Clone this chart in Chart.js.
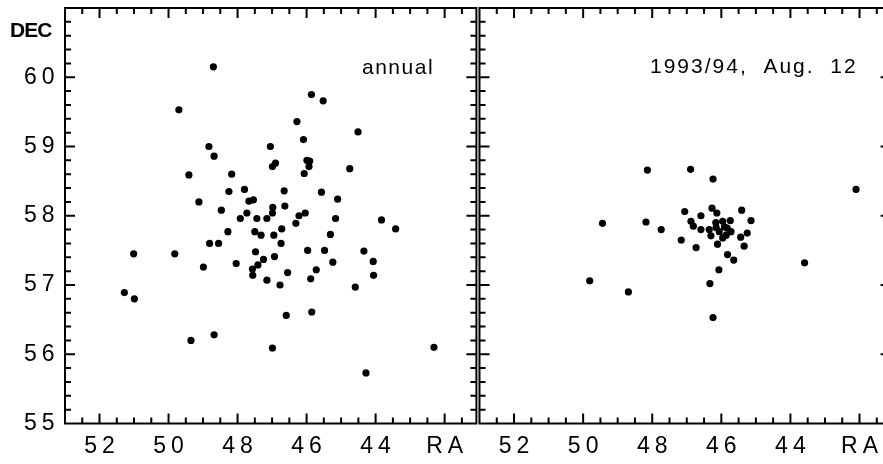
<!DOCTYPE html>
<html><head><meta charset="utf-8">
<script src="https://cdn.jsdelivr.net/npm/chart.js@4"></script>
<style>
html,body{margin:0;padding:0;background:#fff;overflow:hidden;width:883px;height:464px;}
#wrap{position:relative;width:883px;height:464px;overflow:hidden;background:#fff;}
canvas{position:absolute;top:0;}
#c1{left:0;}
#c2{left:459px;}
</style></head>
<body><div id="wrap"><canvas id="c1" width="480" height="464"></canvas><canvas id="c2" width="440" height="464"></canvas></div>
<script>
// ---- data (RA as printed on the axis, DEC in degrees) ----
const annualRA  = [48.70,49.70,48.83,48.68,47.05,46.99,46.90,49.41,48.17,46.28,49.12,48.25,47.80,47.67,47.54,47.73,48.47,47.92,47.44,47.15,46.99,46.98,46.65,46.63,46.31,46.22,48.28,47.50,47.32,46.95,46.72,48.81,48.55,47.48,46.74,51.01,49.82,48.99,48.04,47.25,47.41,46.93,47.57,47.56,46.55,47.15,46.77,51.28,50.99,46.59,49.35,48.68,46.99,45.86,45.52,44.51,46.09,45.99,45.91,45.93,46.07,44.75,45.57,45.10,46.04,45.16,43.83,43.42,45.31,45.97,45.48,45.24,44.34,44.07,44.06,45.72,45.88,44.59,45.85,42.31,44.28];
const annualDEC = [60.15,59.53,59.00,58.86,59.00,58.71,58.76,58.59,58.60,59.36,58.20,58.35,58.38,58.21,58.23,58.04,58.08,57.96,57.96,57.96,58.04,58.12,58.36,58.14,57.89,58.00,57.77,57.77,57.72,57.72,57.81,57.60,57.60,57.48,57.60,57.45,57.45,57.26,57.31,57.37,57.29,57.41,57.23,57.14,57.18,57.07,57.00,56.89,56.80,56.56,56.20,56.28,56.09,59.75,59.66,59.21,59.10,58.80,58.79,58.71,58.61,58.68,58.34,58.24,58.04,57.96,57.94,57.81,57.73,57.50,57.50,57.33,57.49,57.34,57.14,57.22,57.09,56.97,56.61,56.10,55.73];
const augRA  = [48.14,46.89,46.24,42.10,46.27,46.13,47.06,46.59,45.41,45.14,49.44,48.18,47.74,46.88,46.81,46.59,46.35,46.15,45.96,45.74,45.91,46.06,45.72,45.86,46.30,45.96,45.25,45.44,47.16,46.73,46.11,45.34,45.82,45.64,46.07,46.33,46.24,49.81,48.69,43.59,46.16,45.83];
const augDEC = [58.66,58.67,58.53,58.38,58.11,58.04,58.06,58.00,58.08,57.93,57.89,57.91,57.80,57.92,57.85,57.80,57.80,57.83,57.92,57.93,57.84,57.77,57.77,57.72,57.71,57.68,57.75,57.69,57.65,57.54,57.59,57.56,57.44,57.36,57.22,57.02,56.53,57.06,56.90,57.32,57.90,57.82];
const xTickValues = [52,50,48,46,44,42];
const xTickLabels = ['52','50','48','46','44','RA'];
const yTickValues = [55,56,57,58,59,60];
const yTickLabels = ['55','56','57','58','59','60'];
const titleLeft = 'annual';
const titleRight = '1993/94,  Aug.  12';
const yAxisName = 'DEC';

const FONT = '"Liberation Sans", Arial, Helvetica, sans-serif';

function pts(xs, ys){ return xs.map((v,i)=>({x:v, y:ys[i]})); }

const framePlugin = {
  id: 'frame',
  beforeDraw(chart){ chart.ctx.letterSpacing = '5px'; },
  afterDraw(chart, args, opts){
    const ctx = chart.ctx, a = chart.chartArea, xs = chart.scales.x, ys = chart.scales.y;
    ctx.letterSpacing = '0px';
    ctx.save();
    ctx.strokeStyle = '#000';
    ctx.lineWidth = 2;
    ctx.strokeRect(a.left, a.top, a.right - a.left, a.bottom - a.top);
    ctx.beginPath();
    const xmin = Math.min(xs.min, xs.max), xmax = Math.max(xs.min, xs.max);
    for (let k = Math.ceil(xmin*2); k <= Math.floor(xmax*2); k++) {
      const v = k/2, px = xs.getPixelForValue(v);
      if (px <= a.left + 1 || px >= a.right - 1) continue;
      const len = (k % 4 === 0) ? 10 : 6;
      ctx.moveTo(px, a.bottom); ctx.lineTo(px, a.bottom - len);
      ctx.moveTo(px, a.top); ctx.lineTo(px, a.top + len);
    }
    for (let k = Math.ceil(ys.min*5); k <= Math.floor(ys.max*5); k++) {
      const v = k/5, py = ys.getPixelForValue(v);
      if (py <= a.top + 1 || py >= a.bottom - 1) continue;
      const len = (k % 5 === 0) ? 10 : 6;
      ctx.moveTo(a.left, py); ctx.lineTo(a.left + len, py);
      ctx.moveTo(a.right, py); ctx.lineTo(a.right - len, py);
    }
    ctx.stroke();
    ctx.fillStyle = '#000';
    ctx.textBaseline = 'alphabetic';
    ctx.textAlign = 'left';
    (opts.texts || []).forEach(t => {
      ctx.font = t.font;
      ctx.letterSpacing = t.spacing;
      ctx.fillText(t.text, t.x, t.y);
    });
    ctx.letterSpacing = '0px';
    ctx.restore();
  }
};

function noPad(s){ s.paddingTop = 0; s.paddingBottom = 0; s.paddingLeft = 0; s.paddingRight = 0; }

function makeChart(id, data, cfg){
  return new Chart(document.getElementById(id), {
    type: 'scatter',
    data: { datasets: [{ data: data, pointRadius: 3.6, pointHoverRadius: 3.6, backgroundColor: '#000', borderWidth: 0 }] },
    options: {
      responsive: false, animation: false, devicePixelRatio: 1,
      layout: { padding: { top: 8, right: cfg.padRight, left: 0, bottom: 0 } },
      plugins: { legend: { display: false }, tooltip: { enabled: false }, frame: { texts: cfg.texts } },
      scales: {
        x: {
          type: 'linear', position: 'bottom', min: cfg.xMin, max: 53, reverse: true,
          grid: { display: false, drawTicks: false }, border: { display: false },
          afterBuildTicks: s => { s.ticks = xTickValues.map(v => ({ value: v })); },
          afterFit: s => { s.height = 40.5; noPad(s); },
          ticks: { autoSkip: false, maxRotation: 0, padding: 9.5, labelOffset: 2.5, color: '#000',
                   font: { family: FONT, size: 23 },
                   callback: (v, i) => xTickLabels[i] }
        },
        y: {
          type: 'linear', position: 'left', min: 55, max: 61,
          grid: { display: false, drawTicks: false }, border: { display: false },
          afterBuildTicks: s => { s.ticks = yTickValues.map(v => ({ value: v })); },
          afterFit: s => { s.width = cfg.yWidth; noPad(s); },
          ticks: { display: cfg.yLabels, padding: 5.5, color: '#000',
                   font: { family: FONT, size: 23 },
                   callback: (v, i) => yTickLabels[i] }
        }
      }
    },
    plugins: [framePlugin]
  });
}

makeChart('c1', pts(annualRA, annualDEC), {
  xMin: 41.08, padRight: 3, yWidth: 65, yLabels: true,
  texts: [
    { text: yAxisName, x: 10, y: 37, font: 'bold 21px ' + FONT, spacing: '-1px' },
    { text: titleLeft, x: 362, y: 74, font: '21px ' + FONT, spacing: '1.5px' }
  ]
});
makeChart('c2', pts(augRA, augDEC), {
  xMin: 41.1, padRight: 8.4, yWidth: 20.5, yLabels: false,
  texts: [
    { text: titleRight, x: 191, y: 73, font: '21px ' + FONT, spacing: '2px' }
  ]
});
</script>
</body></html>
